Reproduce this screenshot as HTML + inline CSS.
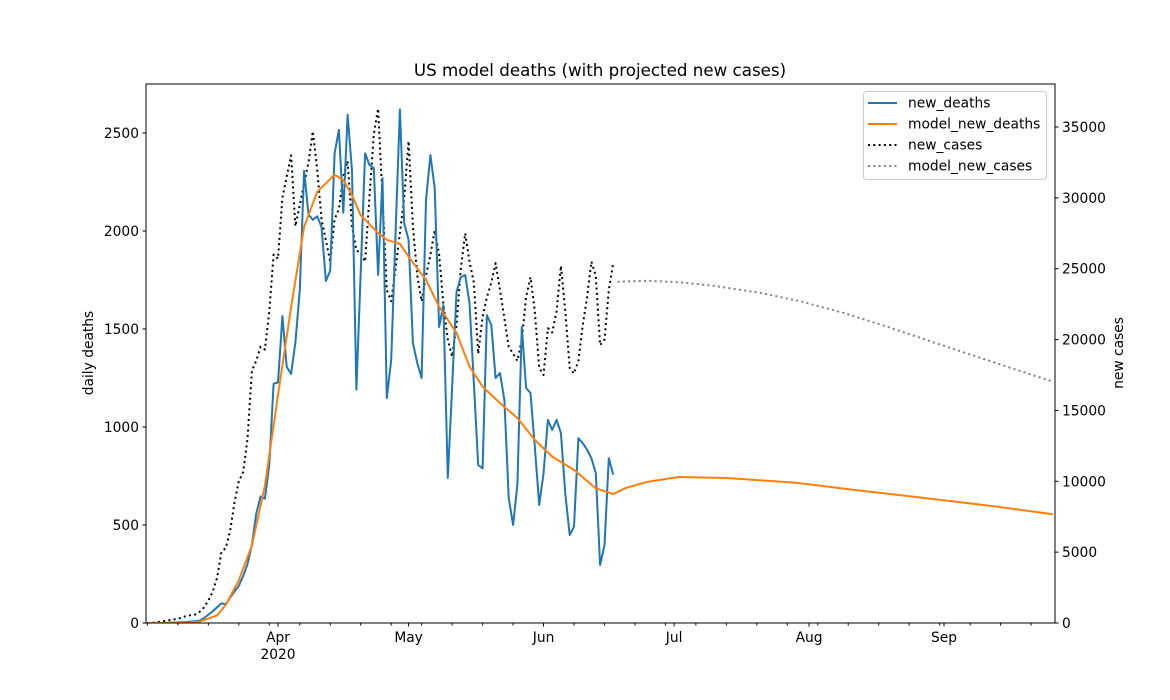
<!DOCTYPE html>
<html><head><meta charset="utf-8"><style>
body{margin:0;background:#fff}
svg{display:block;font-family:"DejaVu Sans","Liberation Sans",sans-serif}
</style></head><body>
<svg id="chart" width="1170" height="700" viewBox="0 0 1170 700">
<rect x="0" y="0" width="1170" height="700" fill="#fff"/>
<text x="600" y="76" text-anchor="middle" font-size="16.7">US model deaths (with projected new cases)</text>
<g id="plot"></g>
<rect x="146" y="84" width="909" height="539" fill="none" stroke="#000" stroke-width="1"/>
<text transform="translate(93,353) rotate(-90)" text-anchor="middle" font-size="13.8">daily deaths</text>
<text transform="translate(1123,353) rotate(-90)" text-anchor="middle" font-size="13.8">new cases</text>
<g>
<rect x="863.5" y="91.5" width="183" height="88" rx="3" fill="#fff" fill-opacity="0.8" stroke="#ccc"/>
<g><line x1="868" y1="103" x2="897" y2="103" stroke="#1f77b4" stroke-width="2"/><text x="908" y="107.5" font-size="13.8">new_deaths</text></g>
<g><line x1="868" y1="124" x2="897" y2="124" stroke="#ff7f0e" stroke-width="2"/><text x="908" y="128.5" font-size="13.8">model_new_deaths</text></g>
<g><line x1="868" y1="145" x2="897" y2="145" stroke="#000" stroke-width="2" stroke-dasharray="2,3.3"/><text x="908" y="149.5" font-size="13.8">new_cases</text></g>
<g><line x1="868" y1="166" x2="897" y2="166" stroke="#808080" stroke-width="2" stroke-dasharray="2,3.3"/><text x="908" y="170.5" font-size="13.8">model_new_cases</text></g>
</g>
</svg>
<script>
// day index 0 = 2020-03-02
const deaths = [0,0,0,0,0,1,2,3,4,5,7,9,12,25,43,60,80,100,95,130,160,190,240,300,400,557,646,634,807,1221,1227,1566,1307,1271,1432,1700,2307,2084,2057,2075,2021,1745,1798,2396,2516,2093,2593,2307,1191,1790,2396,2337,2321,1776,2270,1148,1342,1980,2620,2040,1954,1428,1326,1250,2158,2388,2219,1510,1622,740,1200,1689,1765,1775,1633,1220,806,789,1571,1520,1250,1275,1137,638,500,707,1510,1199,1173,900,602,762,1036,985,1036,969,660,449,492,943,918,884,841,765,296,398,841,757];
const cases = [0,0,50,100,150,200,250,300,400,500,550,600,780,1100,1600,2200,3200,5000,5300,6500,8500,10000,10650,13000,17800,18500,19500,19300,22000,26000,25700,30000,31500,33000,28000,29500,31000,32500,34700,32000,28500,27000,25500,28500,29200,31500,32600,28000,26300,26100,25500,30000,34500,36300,30000,23500,22700,25000,27500,30000,34000,28000,24500,22700,24500,26000,27700,26000,22500,20000,18800,21000,25000,27500,25500,24000,19000,21600,23000,24000,25400,23500,21500,19500,19000,18500,20000,23000,24400,22000,18000,17500,20800,20500,22000,25200,22000,18000,17600,18500,21000,23000,25500,24500,19600,20000,23500,25400];
const modelDays = [0,5,10,12,16,18,21,24,27,30,33,36,39,43,45,47,49,53,55,58,60,64,67,71,74,77,81,85,89,93,98,103,107,110,115,122,133,149,164,179,194,208];
const modelDeaths = [0,0,2,7,39,93,218,396,700,1164,1611,2021,2200,2286,2260,2182,2080,1990,1955,1935,1869,1750,1614,1480,1308,1206,1122,1046,934,849,781,687,658,690,721,745,740,716,675,636,597,555];
const projDays = [108,115,122,130,141,150,160,170,179,194,208];
const modelCases = [24085,24150,24050,23800,23290,22700,21875,20900,19970,18440,17030];
const leftTicks = [0,500,1000,1500,2000,2500];
const rightTicks = [0,5000,10000,15000,20000,25000,30000,35000];
const monthLabels = ["Apr","May","Jun","Jul","Aug","Sep"];
const monthDays = [30,60,91,121,152,183];

const X = d => 278 + (d - 30) * 4.353;
const YL = v => 623 - v * 0.196;
const YR = v => 623 - v * 0.014171;
const NS = "http://www.w3.org/2000/svg";
const plot = document.getElementById('plot');
function mk(tag, attrs, parent) {
  const e = document.createElementNS(NS, tag);
  for (const k in attrs) e.setAttribute(k, attrs[k]);
  (parent || plot).appendChild(e);
  return e;
}
leftTicks.forEach(v => {
  const l = mk('line', {x1: 142.5, x2: 146, y1: YL(v), y2: YL(v), stroke: '#000'});
  
  
  const t = mk('text', {x: 139, y: YL(v) + 5, 'text-anchor': 'end', 'font-size': 13.8});
  t.textContent = v;
  
  
});
rightTicks.forEach(v => {
  const l = mk('line', {x1: 1055, x2: 1058.5, y1: YR(v), y2: YR(v), stroke: '#000'});
  
  
  const t = mk('text', {x: 1062, y: YR(v) + 5, 'text-anchor': 'start', 'font-size': 13.8});
  t.textContent = v;
  
  
});
for (let d = 0; X(d) <= 1055.5; d += 7) {
  const l = mk('line', {x1: X(d), x2: X(d), y1: 623, y2: 625.5, stroke: '#000'});
  
  
}
monthDays.forEach((d, i) => {
  const l = mk('line', {x1: X(d), x2: X(d), y1: 623, y2: 626.5, stroke: '#000'});
  
  
  const t = mk('text', {x: X(d), y: 642, 'text-anchor': 'middle', 'font-size': 13.8});
  t.textContent = monthLabels[i];
  
  
});
const yr = mk('text', {x: X(30), y: 659, 'text-anchor': 'middle', 'font-size': 13.8});
yr.textContent = '2020';



const clip = mk('clipPath', {id: 'cp'});
mk('rect', {x: 146, y: 84, width: 909, height: 539}, clip);
const g = mk('g', {'clip-path': 'url(#cp)'});
function line(xs, ys, yf, color, dash, name) {
  const pts = xs.map((d, i) => X(d).toFixed(1) + ',' + yf(ys[i]).toFixed(1)).join(' ');
  const p = mk('polyline', {points: pts, fill: 'none', stroke: color, 'stroke-width': 2, 'stroke-linejoin': 'round'}, g);
  if (dash) p.setAttribute('stroke-dasharray', dash);
  
  
}
const obsDays = deaths.map((_, i) => i);
line(cases.map((_, i) => i), cases, YR, '#000', '2,3.3', 'new-cases-line');
line(projDays, modelCases, YR, '#808080', '2,3.3', 'model-new-cases-line');
line(obsDays, deaths, YL, '#1f77b4', null, 'new-deaths-line');
line(modelDays, modelDeaths, YL, '#ff7f0e', null, 'model-new-deaths-line');
</script>
</body></html>
